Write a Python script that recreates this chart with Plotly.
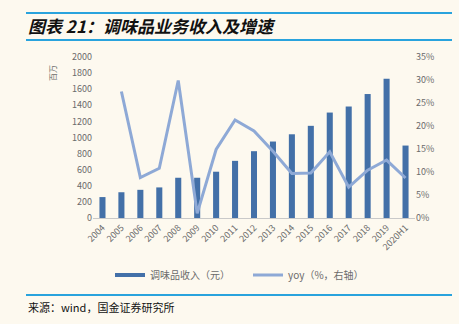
import plotly.graph_objects as go

categories = ["2004","2005","2006","2007","2008","2009","2010","2011","2012","2013",
              "2014","2015","2016","2017","2018","2019","2020H1"]
revenue = [260, 320, 350, 380, 500, 500, 575, 710, 830, 950,
           1040, 1145, 1310, 1385, 1540, 1730, 900]
yoy = [None, 27.5, 8.8, 10.8, 29.9, 1.0, 14.9, 21.3, 18.9, 14.5,
       9.7, 9.8, 14.4, 6.7, 10.4, 12.6, 8.7]
left_ticks = [0, 200, 400, 600, 800, 1000, 1200, 1400, 1600, 1800, 2000]
right_ticks = [0, 5, 10, 15, 20, 25, 30, 35]
right_labels = [f"{v}%" for v in right_ticks]

BG = "#FDF9EF"
BAR = "#4370A8"
LINE = "#8EA9D6"
GRAY = "#6b6b6b"
FONT = "Noto Sans CJK SC"

L, R, T, B = 93, 44, 57, 106
PW, PH = 459 - L - R, 324 - T - B


def px_x(x):
    return (x - L) / PW


def px_y(y):
    return (324 - B - y) / PH


fig = go.Figure()
fig.add_trace(go.Bar(x=categories, y=revenue, marker_color=BAR, marker_line_width=0,
                     showlegend=False, name="调味品收入（元）"))
fig.add_trace(go.Scatter(x=[None], y=[None], mode="lines", line=dict(color=BAR, width=4),
                         name="调味品收入（元）", legend="legend"))
fig.add_trace(go.Scatter(x=categories, y=yoy, mode="lines", yaxis="y2",
                         line=dict(color=LINE, width=3), name="yoy（%，右轴）", legend="legend2"))

legend_common = dict(orientation="h", xanchor="left", yanchor="middle", y=px_y(275),
                     font=dict(size=10, color=GRAY), bgcolor="rgba(0,0,0,0)", itemwidth=30)

fig.update_layout(
    width=459, height=324,
    margin=dict(l=L, r=R, t=T, b=B),
    paper_bgcolor=BG, plot_bgcolor=BG,
    font=dict(family=FONT, size=9, color=GRAY),
    bargap=0.68,
    showlegend=True,
    legend=dict(x=px_x(110), **legend_common),
    legend2=dict(x=px_x(248), **legend_common),
    xaxis=dict(type="category", tickangle=-45, showgrid=False, showline=True,
               linecolor="#c9c9c9", linewidth=1, ticks="", tickfont=dict(size=9, color=GRAY),
               fixedrange=True),
    yaxis=dict(range=[0, 2000], tickvals=left_ticks, showgrid=False, zeroline=False,
               ticks="", tickfont=dict(size=9, color=GRAY), showline=False),
    yaxis2=dict(range=[0, 35], tickvals=right_ticks, ticktext=right_labels, overlaying="y",
                side="right", showgrid=False, zeroline=False, ticks="",
                tickfont=dict(size=9, color=GRAY), showline=False),
)

fig.add_annotation(text="<b><i>图表 21：调味品业务收入及增速</i></b>", xref="paper", yref="paper",
                   x=px_x(26), y=px_y(26), xanchor="left", yanchor="middle",
                   showarrow=False, font=dict(size=17, color="#111111", family=FONT))
fig.add_annotation(text="百万", textangle=-90, xref="paper", yref="paper",
                   x=px_x(52), y=px_y(73), xanchor="center", yanchor="middle",
                   showarrow=False, font=dict(size=8, color=GRAY, family=FONT))
fig.add_annotation(text="来源：wind，国金证券研究所", xref="paper", yref="paper",
                   x=px_x(26), y=px_y(307), xanchor="left", yanchor="middle",
                   showarrow=False, font=dict(size=11, color="#111111", family=FONT))

for ypx in (13, 40, 295):
    fig.add_shape(type="line", xref="paper", yref="paper", layer="above",
                  x0=px_x(26), x1=px_x(452), y0=px_y(ypx), y1=px_y(ypx),
                  line=dict(color="#29A3DD", width=2))

fig.write_html("out.html")
